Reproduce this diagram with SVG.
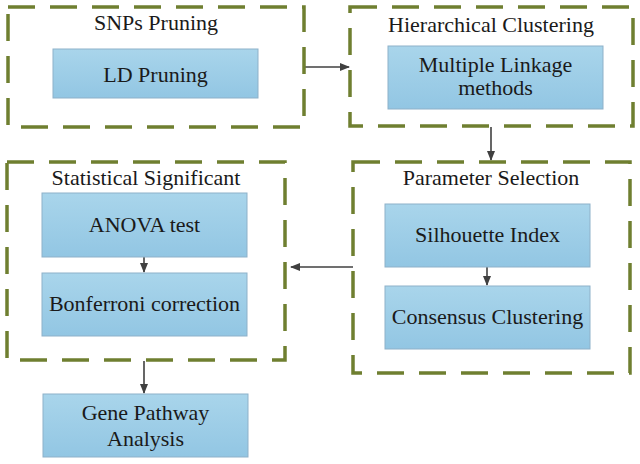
<svg xmlns="http://www.w3.org/2000/svg" width="640" height="464" viewBox="0 0 640 464">
<defs>
<linearGradient id="bg" x1="0" y1="0" x2="0" y2="1">
<stop offset="0" stop-color="#a9d5eb"/>
<stop offset="1" stop-color="#92c6e3"/>
</linearGradient>
<marker id="ah" markerWidth="10" markerHeight="10" refX="9" refY="5" orient="auto" markerUnits="userSpaceOnUse">
<path d="M0,1 L10,5 L0,9 Z" fill="#404040"/>
</marker>
<style>
.grp{fill:none;stroke:#6f7f30;stroke-width:3.5;stroke-dasharray:27 15}
.box{fill:url(#bg);stroke:#8eb1c9;stroke-width:1}
.c{fill:none;stroke:#404040;stroke-width:1.6}
</style>
</defs>
<rect width="640" height="464" fill="#ffffff"/>
<g id="connectors">
<path class="c" d="M305,67 L349,67" marker-end="url(#ah)"/>
<path class="c" d="M491,127 L491,160" marker-end="url(#ah)"/>
<path class="c" d="M353,267 L291,267" marker-end="url(#ah)"/>
<path class="c" d="M487,267 L487,285" marker-end="url(#ah)"/>
<path class="c" d="M144,257 L144,272" marker-end="url(#ah)"/>
<path class="c" d="M144,361 L144,393" marker-end="url(#ah)"/>
</g>
<g id="snps-pruning">
<rect class="grp" x="8" y="7" width="296" height="120"/>
<text x="156" y="30" font-family="Liberation Serif" font-size="22" fill="#1a1a1a" text-anchor="middle">SNPs Pruning</text>
</g>
<g id="ld-pruning">
<rect class="box" x="53" y="49" width="205" height="49"/>
<text x="155.5" y="82" font-family="Liberation Serif" font-size="22" fill="#1a1a1a" text-anchor="middle">LD Pruning</text>
</g>
<g id="hierarchical-clustering">
<rect class="grp" x="350" y="7" width="283" height="119"/>
<text x="491" y="32" font-family="Liberation Serif" font-size="22" fill="#1a1a1a" text-anchor="middle">Hierarchical Clustering</text>
</g>
<g id="multiple-linkage">
<rect class="box" x="388" y="46" width="215" height="63"/>
<text x="495.5" y="72" font-family="Liberation Serif" font-size="22" fill="#1a1a1a" text-anchor="middle">Multiple Linkage</text>
<text x="495.5" y="95" font-family="Liberation Serif" font-size="22" fill="#1a1a1a" text-anchor="middle">methods</text>
</g>
<g id="parameter-selection">
<rect class="grp" x="353" y="162" width="277" height="211"/>
<text x="491" y="185" font-family="Liberation Serif" font-size="22" fill="#1a1a1a" text-anchor="middle">Parameter Selection</text>
</g>
<g id="silhouette-index">
<rect class="box" x="385" y="204" width="205" height="63"/>
<text x="487.5" y="242" font-family="Liberation Serif" font-size="22" fill="#1a1a1a" text-anchor="middle">Silhouette Index</text>
</g>
<g id="consensus-clustering">
<rect class="box" x="385" y="286" width="205" height="63"/>
<text x="487.5" y="324" font-family="Liberation Serif" font-size="22" fill="#1a1a1a" text-anchor="middle">Consensus Clustering</text>
</g>
<g id="statistical-significant">
<rect class="grp" x="7" y="162" width="278" height="198"/>
<text x="146" y="185" font-family="Liberation Serif" font-size="22" fill="#1a1a1a" text-anchor="middle">Statistical Significant</text>
</g>
<g id="anova-test">
<rect class="box" x="42" y="193" width="205" height="64"/>
<text x="144.5" y="232" font-family="Liberation Serif" font-size="22" fill="#1a1a1a" text-anchor="middle">ANOVA test</text>
</g>
<g id="bonferroni-correction">
<rect class="box" x="42" y="273" width="205" height="63"/>
<text x="144.5" y="311" font-family="Liberation Serif" font-size="22" fill="#1a1a1a" text-anchor="middle">Bonferroni correction</text>
</g>
<g id="gene-pathway-analysis">
<rect class="box" x="43" y="394" width="205" height="63"/>
<text x="145.5" y="420" font-family="Liberation Serif" font-size="22" fill="#1a1a1a" text-anchor="middle">Gene Pathway</text>
<text x="145.5" y="446" font-family="Liberation Serif" font-size="22" fill="#1a1a1a" text-anchor="middle">Analysis</text>
</g>
</svg>
